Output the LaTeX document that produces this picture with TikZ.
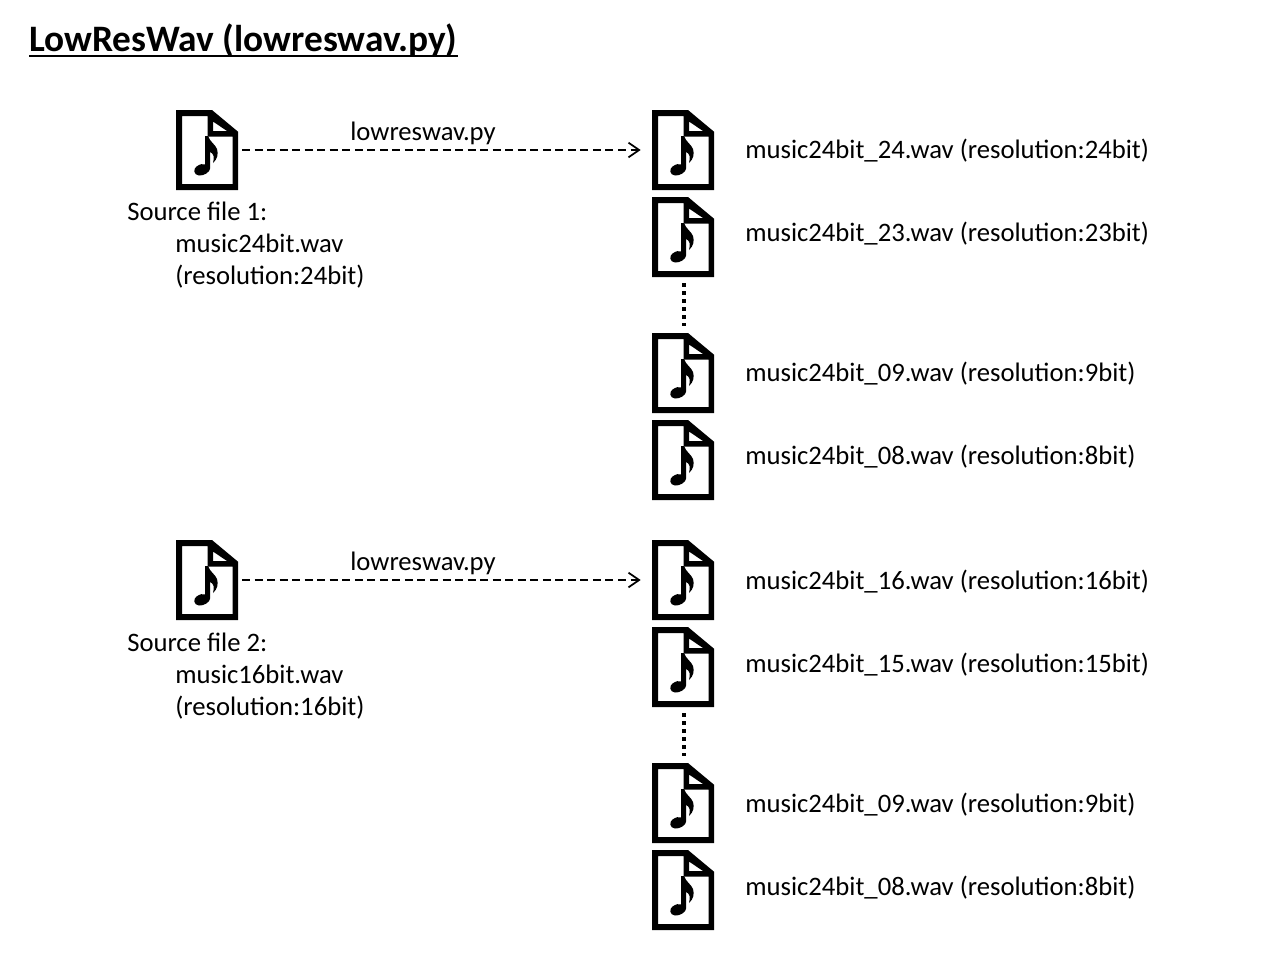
\documentclass[tikz,border=0pt]{standalone}
\usepackage{fontspec}
\setmainfont{Carlito}
\usetikzlibrary{arrows.meta}
\tikzset{
  x=0.75pt,y=-0.75pt,
  iconbox/.style={inner sep=0pt,outer sep=0pt,minimum width=46.5pt,minimum height=60pt,draw=none},
  lbl/.style={inner sep=0pt,anchor=base west,font=\fontsize{20pt}{24pt}\selectfont,text=black},
  flow/.style={line width=1.4pt,draw=black,dash pattern=on 6pt off 3.4pt,-{Straight Barb[length=8pt,width=11pt,line width=1.3pt]},shorten <=3pt,shorten >=8.5pt},
  gap/.style={line width=3pt,draw=black,dash pattern=on 3pt off 3pt,shorten <=4.5pt,shorten >=5pt},
  titleline/.style={line width=2pt,draw=black}
}
\newcommand{\musicicon}[3]{%
  \node[iconbox] (#1) at (#2,#3) {};
  \begin{scope}[shift={(#2,#3)}]
    \fill[black,even odd rule]
      (-31,-40) -- (5,-40) -- (31,-18.3) -- (31,40) -- (-31,40) -- cycle
      (-25,-34) -- (0.7,-34) -- (0.7,-13.3) -- (25.5,-13.3) -- (25.5,34) -- (-25,34) -- cycle
      (6,-28.5) -- (6,-19) -- (20,-19) -- cycle;
    \fill[black] (-1.8,-14) -- (1,-14)
      .. controls (3,-8) and (8,-6) .. (10,-1)
      .. controls (11.5,4) and (10.5,9) .. (6,13)
      .. controls (7.5,7) and (7,4) .. (3.2,2)
      -- (3.2,18) .. controls (3.2,22) and (-3,26) .. (-8,25.5)
      .. controls (-13.5,25) and (-14,19) .. (-10.5,16.5)
      .. controls (-7,14) and (-4,13.5) .. (-1.8,14.5) -- cycle;
  \end{scope}%
}
\begin{document}
\begin{tikzpicture}
\useasboundingbox (0,0) rectangle (1280,960);
\node[lbl,font=\bfseries\fontsize{28pt}{32pt}\selectfont] (title) at (29,51) {LowResWav (lowreswav.py)};
\draw[titleline] ([yshift=-3.75pt]title.base west) -- ([yshift=-3.75pt]title.base east);

\musicicon{src1}{207}{150}
\musicicon{a1}{683}{150}
\musicicon{a2}{683}{237}
\musicicon{a3}{683}{373}
\musicicon{a4}{683}{460}
\musicicon{src2}{207}{580}
\musicicon{b1}{683}{580}
\musicicon{b2}{683}{667}
\musicicon{b3}{683}{803}
\musicicon{b4}{683}{890}

\draw[flow] (src1) -- (a1) node[midway,lbl,anchor=base,xshift=-16.5pt,yshift=7.5pt] (p1) {lowreswav.py};
\draw[flow] (src2) -- (b1) node[midway,lbl,anchor=base,xshift=-16.5pt,yshift=7.5pt] (p2) {lowreswav.py};
\draw[gap] ([xshift=0.75pt]a2.south) -- ([xshift=0.75pt]a3.north);
\draw[gap] ([xshift=0.75pt]b2.south) -- ([xshift=0.75pt]b3.north);

\node[lbl] (s1a) at (127,220) {Source file 1:};
\node[lbl] (s1b) at (175,252) {music24bit.wav};
\node[lbl] (s1c) at (175,284) {(resolution:24bit)};
\node[lbl] (s2a) at (127,651) {Source file 2:};
\node[lbl] (s2b) at (175,683) {music16bit.wav};
\node[lbl] (s2c) at (175,715) {(resolution:16bit)};

\node[lbl] (t1) at (745,158) {music24bit\_24.wav (resolution:24bit)};
\node[lbl] (t2) at (745,241) {music24bit\_23.wav (resolution:23bit)};
\node[lbl] (t3) at (745,381) {music24bit\_09.wav (resolution:9bit)};
\node[lbl] (t4) at (745,464) {music24bit\_08.wav (resolution:8bit)};
\node[lbl] (t5) at (745,589) {music24bit\_16.wav (resolution:16bit)};
\node[lbl] (t6) at (745,672) {music24bit\_15.wav (resolution:15bit)};
\node[lbl] (t7) at (745,812) {music24bit\_09.wav (resolution:9bit)};
\node[lbl] (t8) at (745,895) {music24bit\_08.wav (resolution:8bit)};
\end{tikzpicture}
\end{document}
